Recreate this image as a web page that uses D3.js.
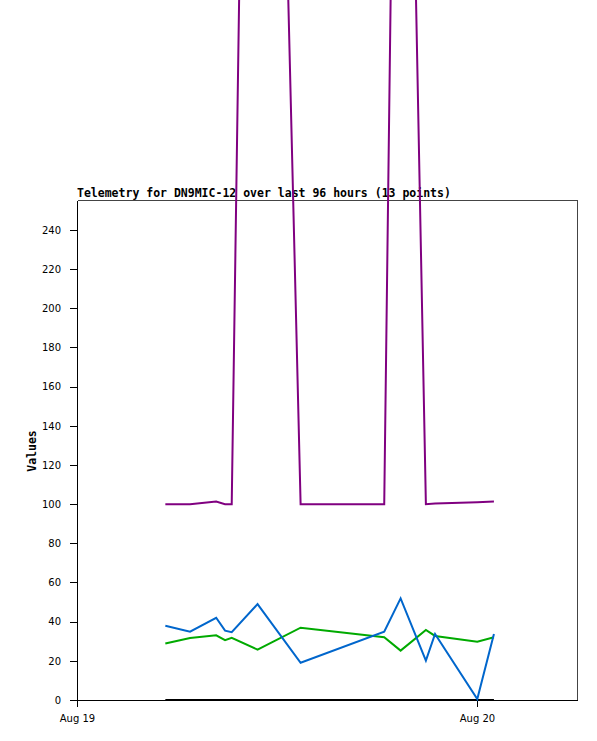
<!DOCTYPE html>
<html>
<head>
<meta charset="utf-8">
<script src="https://cdn.jsdelivr.net/npm/d3@7"></script>
<style>
	body { margin: 0; background: #fff; }
	.axis text { font-family: "DejaVu Sans", sans-serif; font-size: 10px; fill: #000; }
	.axis path, .axis line { stroke: #000; shape-rendering: crispEdges; }
	.title, .axis-label { font-family: "DejaVu Sans Mono", monospace; font-weight: bold; font-size: 11.5px; }
	.line { fill: none; stroke-width: 2; stroke-linejoin: miter; }
</style>
</head>
<body>
<script>
//************************************************************
// Data
//************************************************************
var times = [
	'2023-08-19T05:18', '2023-08-19T06:47', '2023-08-19T08:21', '2023-08-19T08:53',
	'2023-08-19T09:17', '2023-08-19T10:50', '2023-08-19T13:25', '2023-08-19T18:26',
	'2023-08-19T19:25', '2023-08-19T20:56', '2023-08-19T21:29', '2023-08-20T00:01',
	'2023-08-20T01:01'
];

var zeroValues = [0, 0, 0, 0, 0, 0, 0, 0, 0, 0, 0, 0, 0];
var purpleValues = [100, 100, 101.3, 100, 100, 1000, 100, 100, 760, 100, 100.3, 101, 101.3];
var greenValues = [28.8, 31.7, 33, 30.6, 31.8, 25.7, 36.9, 32, 25.2, 35.8, 32.7, 29.8, 32];
var blueValues = [37.9, 34.9, 42, 35.4, 34.6, 49, 19, 34.9, 51.9, 20.1, 33.7, 0.5, 33.7];

var series = [zeroValues, purpleValues, greenValues, blueValues];
var colors = ['#000000', '#800080', '#00aa00', '#0066cc'];

var yTicks = [0, 20, 40, 60, 80, 100, 120, 140, 160, 180, 200, 220, 240];
var xTicks = ['2023-08-19T00:00', '2023-08-20T00:00'];
var xDomain = ['2023-08-19T00:00', '2023-08-20T06:00'];

var titleText = 'Telemetry for DN9MIC-12 over last 96 hours (13 points)';

//************************************************************
// Margins, scales, axes
//************************************************************
const margin = { top: 200, right: 20, bottom: 41, left: 77 };
const width = 597 - margin.left - margin.right;
const height = 741 - margin.top - margin.bottom;

const parse = d3.utcParse('%Y-%m-%dT%H:%M');

const xScale = d3.scaleUtc()
	.domain(xDomain.map(parse))
	.range([0, width]);

const yScale = d3.scaleLinear()
	.domain([0, 255.3])
	.range([height, 0]);

const xAxis = d3.axisBottom(xScale)
	.tickValues(xTicks.map(parse))
	.tickFormat(d3.utcFormat('%b %d'))
	.tickSize(7)
	.tickSizeOuter(0)
	.tickPadding(8);

const yAxis = d3.axisLeft(yScale)
	.tickValues(yTicks)
	.tickSize(7)
	.tickSizeOuter(0)
	.tickPadding(9);

const svg = d3.select('body').append('svg')
	.attr('width', 597)
	.attr('height', 741)
	.style('display', 'block')
	.append('g')
	.attr('transform', 'translate(' + margin.left + ',' + margin.top + ')');

// frame top and right
svg.append('path')
	.attr('d', 'M0.5,0.5H' + (width + 0.5) + 'V' + height)
	.attr('fill', 'none')
	.attr('stroke', '#444')
	.attr('shape-rendering', 'crispEdges');

svg.append('g')
	.attr('class', 'x axis')
	.attr('transform', 'translate(0,' + height + ')')
	.call(xAxis);

svg.append('g')
	.attr('class', 'y axis')
	.call(yAxis);

svg.append('text')
	.attr('class', 'axis-label')
	.attr('transform', 'rotate(-90)')
	.attr('x', -height / 2 - 1)
	.attr('y', -margin.left + 36)
	.attr('text-anchor', 'middle')
	.text('Values');

svg.append('text')
	.attr('class', 'title')
	.attr('x', 0)
	.attr('y', -3)
	.text(titleText);

//************************************************************
// Lines (not clipped, the big values run off the top)
//************************************************************
const line = d3.line()
	.x(function (d, i) { return xScale(parse(times[i])); })
	.y(function (d) { return yScale(d); });

svg.selectAll('.line')
	.data(series)
	.enter()
	.append('path')
	.attr('class', 'line')
	.attr('stroke', function (d, i) { return colors[i]; })
	.attr('d', line);
</script>
</body>
</html>
